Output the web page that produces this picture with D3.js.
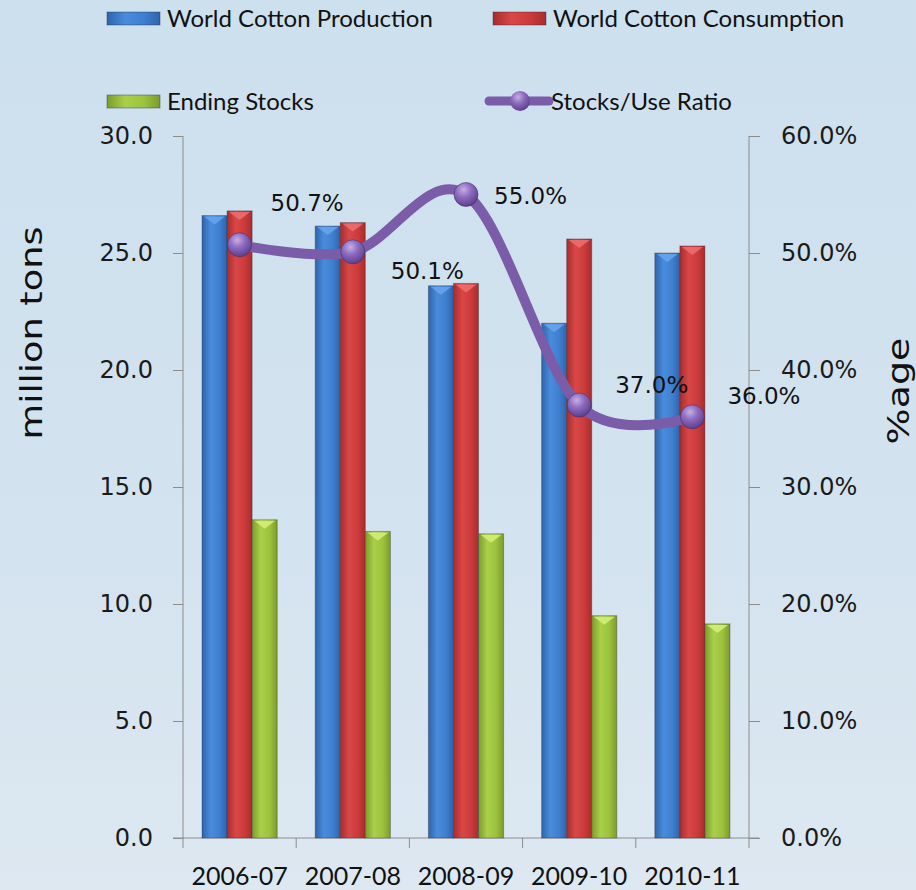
<!DOCTYPE html>
<html>
<head>
<meta charset="utf-8">
<script src="https://cdn.jsdelivr.net/npm/d3@7/dist/d3.min.js"></script>
<style>
  html, body { margin: 0; padding: 0; }
  body { width: 916px; height: 890px; overflow: hidden; }
</style>
</head>
<body>
<div id="chart"></div>
<script>
var years = ["2006-07", "2007-08", "2008-09", "2009-10", "2010-11"];
var production = [26.6, 26.15, 23.6, 22.0, 25.0];
var consumption = [26.8, 26.3, 23.7, 25.6, 25.3];
var endingStocks = [13.6, 13.1, 13.0, 9.5, 9.15];
var stocksUse = [0.507, 0.501, 0.550, 0.370, 0.360];
var leftTicks = [0, 5, 10, 15, 20, 25, 30];
var rightTicks = [0, 0.1, 0.2, 0.3, 0.4, 0.5, 0.6];
var seriesNames = ["World Cotton Production", "World Cotton Consumption", "Ending Stocks", "Stocks/Use Ratio"];

// label nudges (hand placed in the original)
var labelNudge = [[31, -42], [38, 19], [28, 1], [36, -20], [35, -21]];

var width = 916, height = 890;
var plotLeft = 183, plotRight = 749, plotTop = 136, plotBottom = 838;

var svg = d3.select("#chart").append("svg")
    .attr("width", width)
    .attr("height", height);

var defs = svg.append("defs");

var bg = defs.append("linearGradient").attr("id", "bg")
    .attr("x1", 0).attr("y1", 0).attr("x2", 0).attr("y2", 1);
bg.append("stop").attr("offset", "0%").attr("stop-color", "#cde0ee");
bg.append("stop").attr("offset", "60%").attr("stop-color", "#d3e3ef");
bg.append("stop").attr("offset", "100%").attr("stop-color", "#dde8f1");

function barGrad(id, dark, mid, light) {
    var g = defs.append("linearGradient").attr("id", id)
        .attr("x1", 0).attr("y1", 0).attr("x2", 1).attr("y2", 0);
    g.append("stop").attr("offset", "0%").attr("stop-color", dark);
    g.append("stop").attr("offset", "35%").attr("stop-color", light);
    g.append("stop").attr("offset", "70%").attr("stop-color", mid);
    g.append("stop").attr("offset", "100%").attr("stop-color", dark);
}
barGrad("gBlue", "#2e64ab", "#3f7fd0", "#4a8cdc");
barGrad("gRed", "#a82c2c", "#cc3b3b", "#d94747");
barGrad("gGreen", "#7d9c2a", "#9cc23e", "#aad04a");

var ball = defs.append("radialGradient").attr("id", "ball")
    .attr("cx", "40%").attr("cy", "30%").attr("r", "70%");
ball.append("stop").attr("offset", "0%").attr("stop-color", "#c6b0e6");
ball.append("stop").attr("offset", "45%").attr("stop-color", "#8e6cc0");
ball.append("stop").attr("offset", "100%").attr("stop-color", "#5e3f8e");

svg.append("rect").attr("width", width).attr("height", height).attr("fill", "url(#bg)");

var x0 = d3.scaleBand().domain(years).range([plotLeft, plotRight]);
var x1 = d3.scaleBand().domain(["prod", "cons", "stock"]).range([19, x0.bandwidth() - 19]);
var y = d3.scaleLinear().domain([0, 30]).range([plotBottom, plotTop]);
var y2 = d3.scaleLinear().domain([0, 0.6]).range([plotBottom, plotTop]);

var barSeries = [
    {key: "prod", values: production, fill: "url(#gBlue)", cap: "#6aa6ee"},
    {key: "cons", values: consumption, fill: "url(#gRed)", cap: "#f07070"},
    {key: "stock", values: endingStocks, fill: "url(#gGreen)", cap: "#d6f07a"}
];

// axes
var axisColor = "#8c8c8c";
var yAxis = svg.append("g").attr("transform", "translate(" + plotLeft + ",0)")
    .call(d3.axisLeft(y).tickValues(leftTicks).tickSize(10).tickPadding(20).tickFormat(d3.format(".1f")));
var y2Axis = svg.append("g").attr("transform", "translate(" + plotRight + ",0)")
    .call(d3.axisRight(y2).tickValues(rightTicks).tickSize(11).tickPadding(21).tickFormat(d3.format(".1%")));
[yAxis, y2Axis].forEach(function(a) {
    a.select(".domain").attr("stroke", axisColor).attr("d", "M0," + plotTop + "V" + plotBottom);
    a.selectAll(".tick line").attr("stroke", axisColor);
    a.selectAll("text").attr("font-family", "DejaVu Sans").attr("font-size", 24).attr("fill", "#1a1a1a");
});

var xAxis = svg.append("g").attr("transform", "translate(0," + plotBottom + ")");
xAxis.append("line").attr("x1", plotLeft - 10).attr("x2", plotRight + 10).attr("stroke", axisColor);
xAxis.selectAll(".xt").data(years.concat(["end"])).enter().append("line")
    .attr("x1", function(d, i) { return i < years.length ? x0(d) : plotRight; })
    .attr("x2", function(d, i) { return i < years.length ? x0(d) : plotRight; })
    .attr("y1", 0).attr("y2", 10).attr("stroke", axisColor);
xAxis.selectAll(".xl").data(years).enter().append("text")
    .attr("x", function(d) { return x0(d) + x0.bandwidth() / 2; })
    .attr("y", 47)
    .attr("text-anchor", "middle")
    .attr("font-family", "Lato")
    .attr("font-size", 25)
    .attr("fill", "#111")
    .text(function(d) { return d; });

// bars
barSeries.forEach(function(s) {
    var g = svg.append("g");
    g.selectAll("rect").data(s.values).enter().append("rect")
        .attr("x", function(d, i) { return x0(years[i]) + x1(s.key); })
        .attr("y", function(d) { return y(d); })
        .attr("width", x1.bandwidth())
        .attr("height", function(d) { return plotBottom - y(d); })
        .attr("fill", s.fill)
        .attr("stroke", "rgba(40,40,60,0.35)")
        .attr("stroke-width", 1);
    g.selectAll("path").data(s.values).enter().append("path")
        .attr("d", function(d, i) {
            var bx = x0(years[i]) + x1(s.key), w = x1.bandwidth(), by = y(d);
            return "M" + (bx + 2) + "," + (by + 1) + "L" + (bx + w - 2) + "," + (by + 1) + "L" + (bx + w / 2) + "," + (by + 9) + "Z";
        })
        .attr("fill", s.cap)
        .attr("opacity", 0.85);
});

// ratio line
var pts = stocksUse.map(function(d, i) { return [x0(years[i]) + x0.bandwidth() / 2, y2(d)]; });
var line = d3.line().curve(d3.curveCatmullRom.alpha(0));
svg.append("path").attr("d", line(pts))
    .attr("fill", "none")
    .attr("stroke", "#7b5ca8")
    .attr("stroke-width", 10)
    .attr("stroke-linecap", "round");
svg.selectAll(".marker").data(pts).enter().append("circle")
    .attr("cx", function(d) { return d[0]; })
    .attr("cy", function(d) { return d[1]; })
    .attr("r", 12)
    .attr("fill", "url(#ball)")
    .attr("stroke", "rgba(60,40,90,0.5)");

svg.selectAll(".lab").data(stocksUse).enter().append("text")
    .attr("x", function(d, i) { return pts[i][0] + labelNudge[i][0]; })
    .attr("y", function(d, i) { return pts[i][1] + labelNudge[i][1]; })
    .attr("dy", "0.36em")
    .attr("font-family", "DejaVu Sans")
    .attr("font-size", 23)
    .attr("fill", "#111")
    .text(function(d) { return d3.format(".1%")(d); });

// axis titles
svg.append("text")
    .attr("transform", "translate(42,333) rotate(-90)")
    .attr("text-anchor", "middle")
    .attr("font-family", "DejaVu Sans")
    .attr("font-size", 30)
    .attr("textLength", 213)
    .attr("lengthAdjust", "spacingAndGlyphs")
    .attr("fill", "#111")
    .text("million tons");
svg.append("text")
    .attr("transform", "translate(909,391) rotate(-90)")
    .attr("text-anchor", "middle")
    .attr("font-family", "DejaVu Sans")
    .attr("font-size", 31)
    .attr("textLength", 107)
    .attr("lengthAdjust", "spacingAndGlyphs")
    .attr("fill", "#111")
    .text("%age");

// legend
var legendPos = [[107, 18], [493, 18], [107, 101], [489, 101]];
var legendFill = ["url(#gBlue)", "url(#gRed)", "url(#gGreen)"];
var legend = svg.append("g");
seriesNames.forEach(function(name, i) {
    var p = legendPos[i];
    var tx;
    if (i < 3) {
        legend.append("rect").attr("x", p[0]).attr("y", p[1] - 6).attr("width", 53).attr("height", 13)
            .attr("fill", legendFill[i]).attr("stroke", "rgba(40,40,60,0.4)");
        tx = p[0] + 60;
    } else {
        legend.append("line").attr("x1", p[0]).attr("x2", p[0] + 60).attr("y1", p[1]).attr("y2", p[1])
            .attr("stroke", "#7b5ca8").attr("stroke-width", 9).attr("stroke-linecap", "round");
        legend.append("circle").attr("cx", p[0] + 31).attr("cy", p[1]).attr("r", 10)
            .attr("fill", "url(#ball)");
        tx = p[0] + 62;
    }
    legend.append("text").attr("x", tx).attr("y", p[1]).attr("dy", "0.36em")
        .attr("font-family", "Lato").attr("font-size", 24).attr("fill", "#111")
        .text(name);
});
</script>
</body>
</html>
